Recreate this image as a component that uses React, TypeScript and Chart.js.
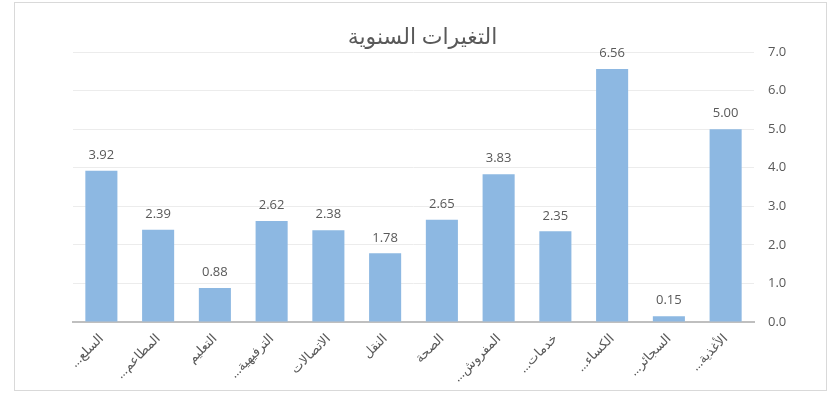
import React, { useEffect, useRef } from "react";
import { Chart, registerables } from "chart.js";

Chart.register(...registerables);

const TITLE = "التغيرات السنوية";
const CATEGORIES = [
  "السلع…",
  "المطاعم…",
  "التعليم",
  "الترفيهية…",
  "الاتصالات",
  "النقل",
  "الصحة",
  "المفروش…",
  "خدمات…",
  "الكساء…",
  "السجائر…",
  "الأغذية…",
];
const VALUES = [3.92, 2.39, 0.88, 2.62, 2.38, 1.78, 2.65, 3.83, 2.35, 6.56, 0.15, 5.0];
const Y_MIN = 0;
const Y_MAX = 7;
const Y_STEP = 1;

const FONT = "'Open Sans', 'DejaVu Sans', sans-serif";
const TEXT_COLOR = "#595959";
const BAR_COLOR = "#8db8e2";

const valueLabels = {
  id: "valueLabels",
  afterDatasetsDraw(chart: any) {
    const ctx = chart.ctx;
    const meta = chart.getDatasetMeta(0);
    ctx.save();
    ctx.font = `13px ${FONT}`;
    ctx.fillStyle = TEXT_COLOR;
    ctx.textAlign = "center";
    ctx.textBaseline = "bottom";
    meta.data.forEach((bar: any, i: number) => {
      const v = chart.data.datasets[0].data[i] as number;
      ctx.fillText(v.toFixed(2), bar.x, bar.y - 9);
    });
    ctx.restore();
  },
};

const centeredTitle = {
  id: "centeredTitle",
  afterDraw(chart: any) {
    const ctx = chart.ctx;
    ctx.save();
    ctx.font = `22px ${FONT}`;
    ctx.fillStyle = TEXT_COLOR;
    ctx.textAlign = "center";
    ctx.textBaseline = "middle";
    ctx.fillText(TITLE, chart.width / 2 + 2, 35);
    ctx.restore();
  },
};

export default function App() {
  const ref = useRef<HTMLCanvasElement>(null);
  useEffect(() => {
    if (!ref.current) return;
    const chart = new Chart(ref.current, {
      type: "bar",
      data: {
        labels: CATEGORIES,
        datasets: [
          {
            data: VALUES,
            backgroundColor: BAR_COLOR,
            borderWidth: 0,
            barPercentage: 0.565,
            categoryPercentage: 1,
          },
        ],
      },
      options: {
        animation: false,
        responsive: false,
        maintainAspectRatio: false,
        layout: { padding: { left: 58, right: 0, top: 49, bottom: 0 } },
        plugins: {
          legend: { display: false },
          tooltip: { enabled: false },
          title: { display: false },
        },
        scales: {
          x: {
            grid: { display: false, drawTicks: false },
            border: { display: true, color: "#bfbfbf", width: 2 },
            ticks: {
              color: TEXT_COLOR,
              font: { family: FONT, size: 13 },
              minRotation: 45,
              maxRotation: 45,
              autoSkip: false,
              padding: 9,
            },
            afterFit(scale: any) {
              scale.height = 68;
            },
          },
          y: {
            position: "right",
            min: Y_MIN,
            max: Y_MAX,
            grid: { color: "#ececec", drawTicks: false },
            border: { display: false },
            ticks: {
              stepSize: Y_STEP,
              color: TEXT_COLOR,
              font: { family: FONT, size: 13 },
              padding: 14,
              callback: (v: any) => Number(v).toFixed(1),
            },
            afterFit(scale: any) {
              scale.width = 72;
            },
          },
        },
      },
      plugins: [valueLabels, centeredTitle],
    });
    return () => chart.destroy();
  }, []);
  return (
    <div
      style={{
        position: "absolute",
        left: 14,
        top: 2,
        width: 811,
        height: 387,
        border: "1px solid #d9d9d9",
        background: "#fff",
      }}
    >
      <canvas ref={ref} width={811} height={387} dir="rtl" style={{ display: "block", direction: "rtl" }} />
    </div>
  );
}
